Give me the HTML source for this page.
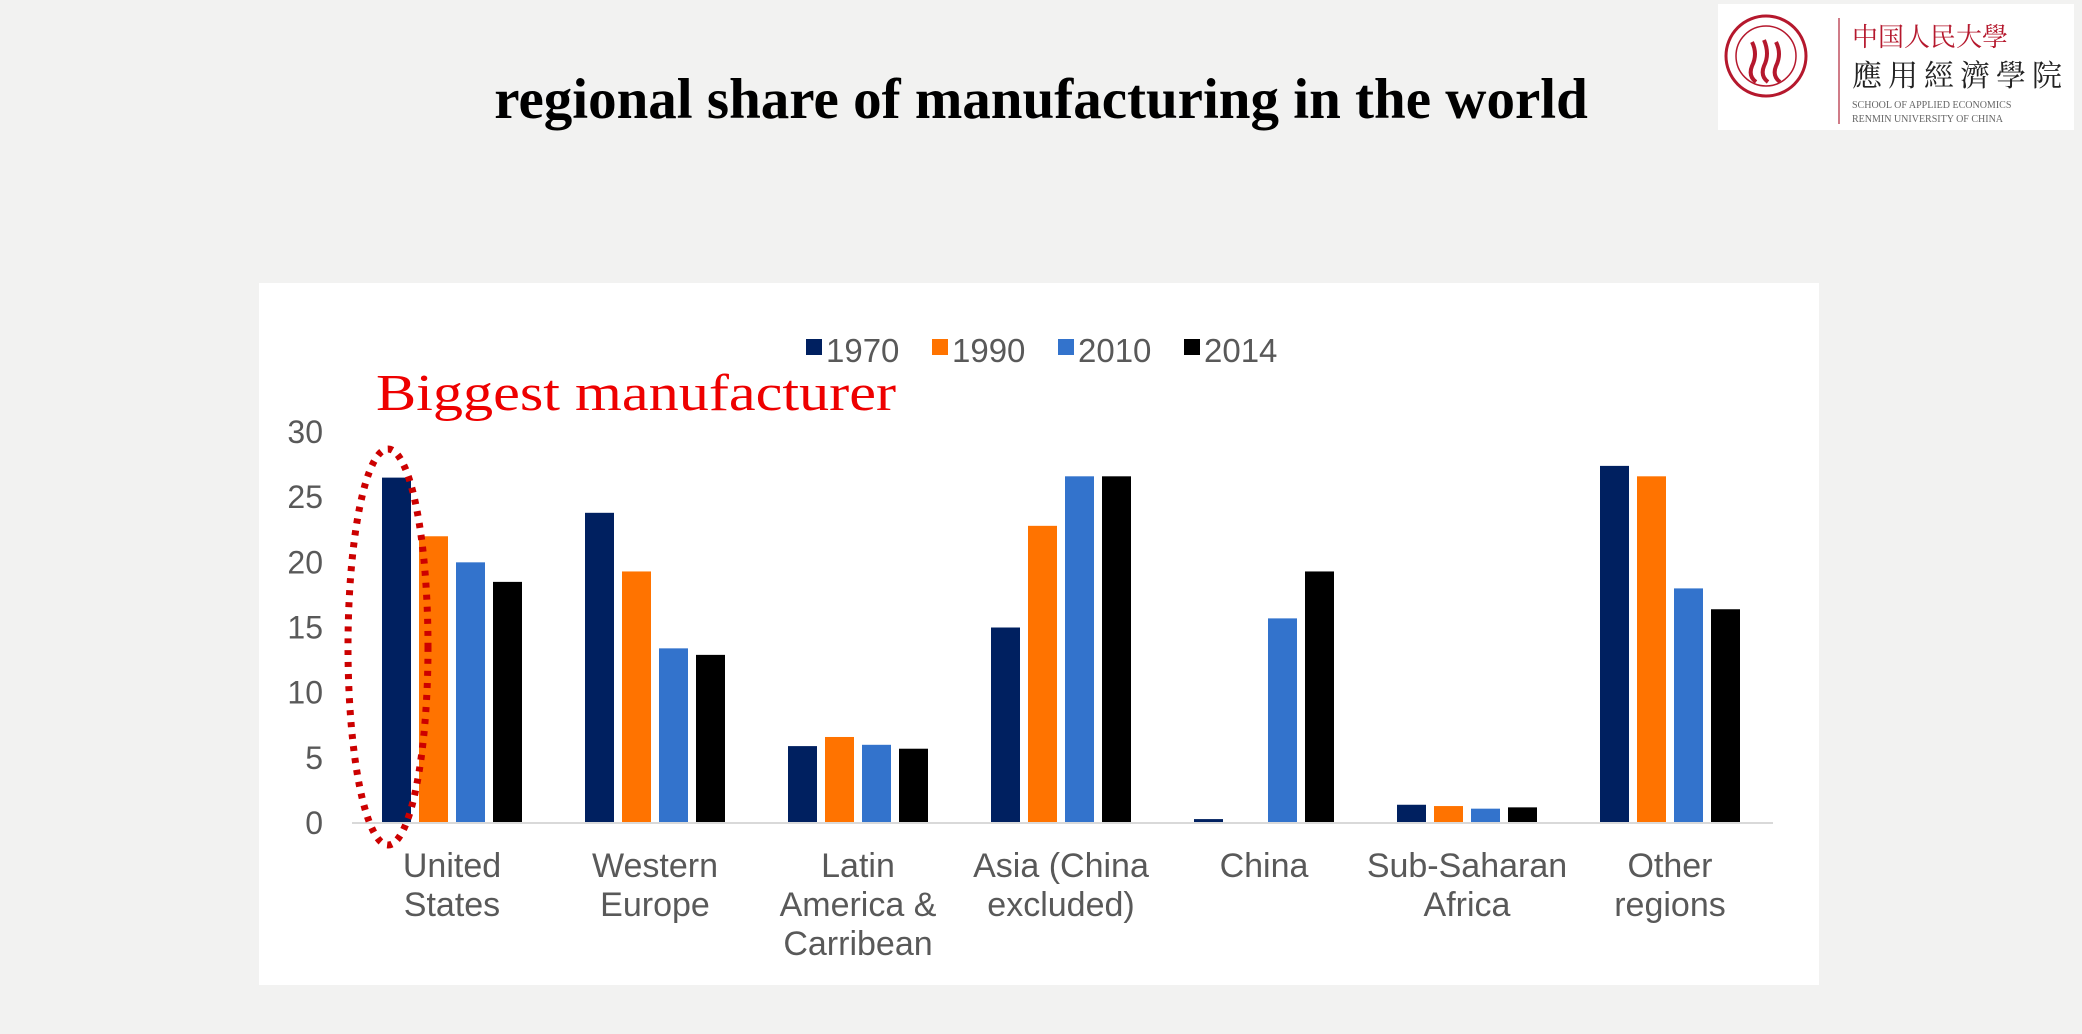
<!DOCTYPE html>
<html><head><meta charset="utf-8"><style>
body{margin:0;width:2082px;height:1034px;background:#f2f2f1;overflow:hidden;position:relative;font-family:"Liberation Sans",sans-serif}
#title{position:absolute;left:0;width:2082px;top:67px;text-align:center;font:bold 57px "Liberation Serif",serif;color:#000}
#logo{position:absolute;left:1718px;top:4px;width:356px;height:126px;background:#fff}
</style></head><body>
<div id="title">regional share of manufacturing in the world</div>
<div id="logo">
<svg width="356" height="126">
<circle cx="48" cy="52" r="40" fill="none" stroke="#b5182d" stroke-width="3"/>
<circle cx="48" cy="52" r="30" fill="none" stroke="#b5182d" stroke-width="1.5"/>
<path d="M34 38 q6 12 0 24 q-4 10 4 16 M46 36 q6 14 0 26 q-4 10 4 16 M58 38 q6 12 0 24 q-4 10 4 16" fill="none" stroke="#b5182d" stroke-width="4"/>
<line x1="121" y1="14" x2="121" y2="120" stroke="#c05060" stroke-width="1.5"/>
<text x="134" y="42" font-family="'Noto Serif CJK SC',serif" font-size="26" fill="#b5182d">中国人民大學</text>
<text x="134" y="82" font-family="'Noto Serif CJK TC','Noto Sans CJK TC',serif" font-size="30" fill="#222" letter-spacing="6">應用經濟學院</text>
<text x="134" y="104" font-family="'Liberation Serif',serif" font-size="10" fill="#666">SCHOOL OF APPLIED ECONOMICS</text>
<text x="134" y="118" font-family="'Liberation Serif',serif" font-size="10" fill="#666">RENMIN UNIVERSITY OF CHINA</text>
</svg></div>
<svg id="chart" width="2082" height="1034" style="position:absolute;left:0;top:0">
<rect x="259" y="283" width="1560" height="702" fill="#fff"/>
<g id="g"></g>
</svg>
<script>
const categories=[["United","States"],["Western","Europe"],["Latin","America &","Carribean"],["Asia (China","excluded)"],["China"],["Sub-Saharan","Africa"],["Other","regions"]];
const seriesNames=["1970","1990","2010","2014"];
const s1970=[26.5,23.8,5.9,15,0.3,1.4,27.4];
const s1990=[22,19.3,6.6,22.8,0,1.3,26.6];
const s2010=[20,13.4,6,26.6,15.7,1.1,18];
const s2014=[18.5,12.9,5.7,26.6,19.3,1.2,16.4];
const yTicks=[0,5,10,15,20,25,30];
const colors=["#002060","#ff7300","#3373cc","#000000"];
const series=[s1970,s1990,s2010,s2014];
const NS="http://www.w3.org/2000/svg";
const g=document.getElementById('g');
const y=v=>823-v*(823-432)/30;
const gx=i=>452+i*203;
function mk(t,a){const e=document.createElementNS(NS,t);for(const k in a)e.setAttribute(k,a[k]);g.appendChild(e);return e;}
yTicks.forEach(t=>{const e=mk('text',{x:323,y:y(t)+11,'text-anchor':'end','font-size':32,fill:'#595959'});e.textContent=t;

});
series.forEach((s,j)=>s.forEach((v,i)=>{if(v<=0)return;const r=mk('rect',{x:gx(i)-70+j*37,y:y(v),width:29,height:y(0)-y(v),fill:colors[j]});

}));
const ax=mk('line',{x1:352,x2:1773,y1:823,y2:823,stroke:'#d9d9d9','stroke-width':2});


categories.forEach((c,i)=>c.forEach((l,k)=>{const e=mk('text',{x:gx(i),y:877+k*39,'text-anchor':'middle','font-size':34,fill:'#595959'});e.textContent=l;

}));
let lx=806;
seriesNames.forEach((n,j)=>{const r=mk('rect',{x:lx,y:339,width:16,height:16,fill:colors[j]});


const t=mk('text',{x:lx+20,y:362,'font-size':33,fill:'#595959'});t.textContent=n;


lx+=126;});
const an=mk('text',{x:376,y:410,'font-size':52,fill:'#ee0000','font-family':'Liberation Serif,serif',textLength:520,lengthAdjust:'spacingAndGlyphs'});an.textContent='Biggest manufacturer';


const el=mk('ellipse',{cx:388,cy:647,rx:40,ry:198,fill:'none',stroke:'#cc0000','stroke-width':7,'stroke-dasharray':'5 7'});


</script>
</body></html>
